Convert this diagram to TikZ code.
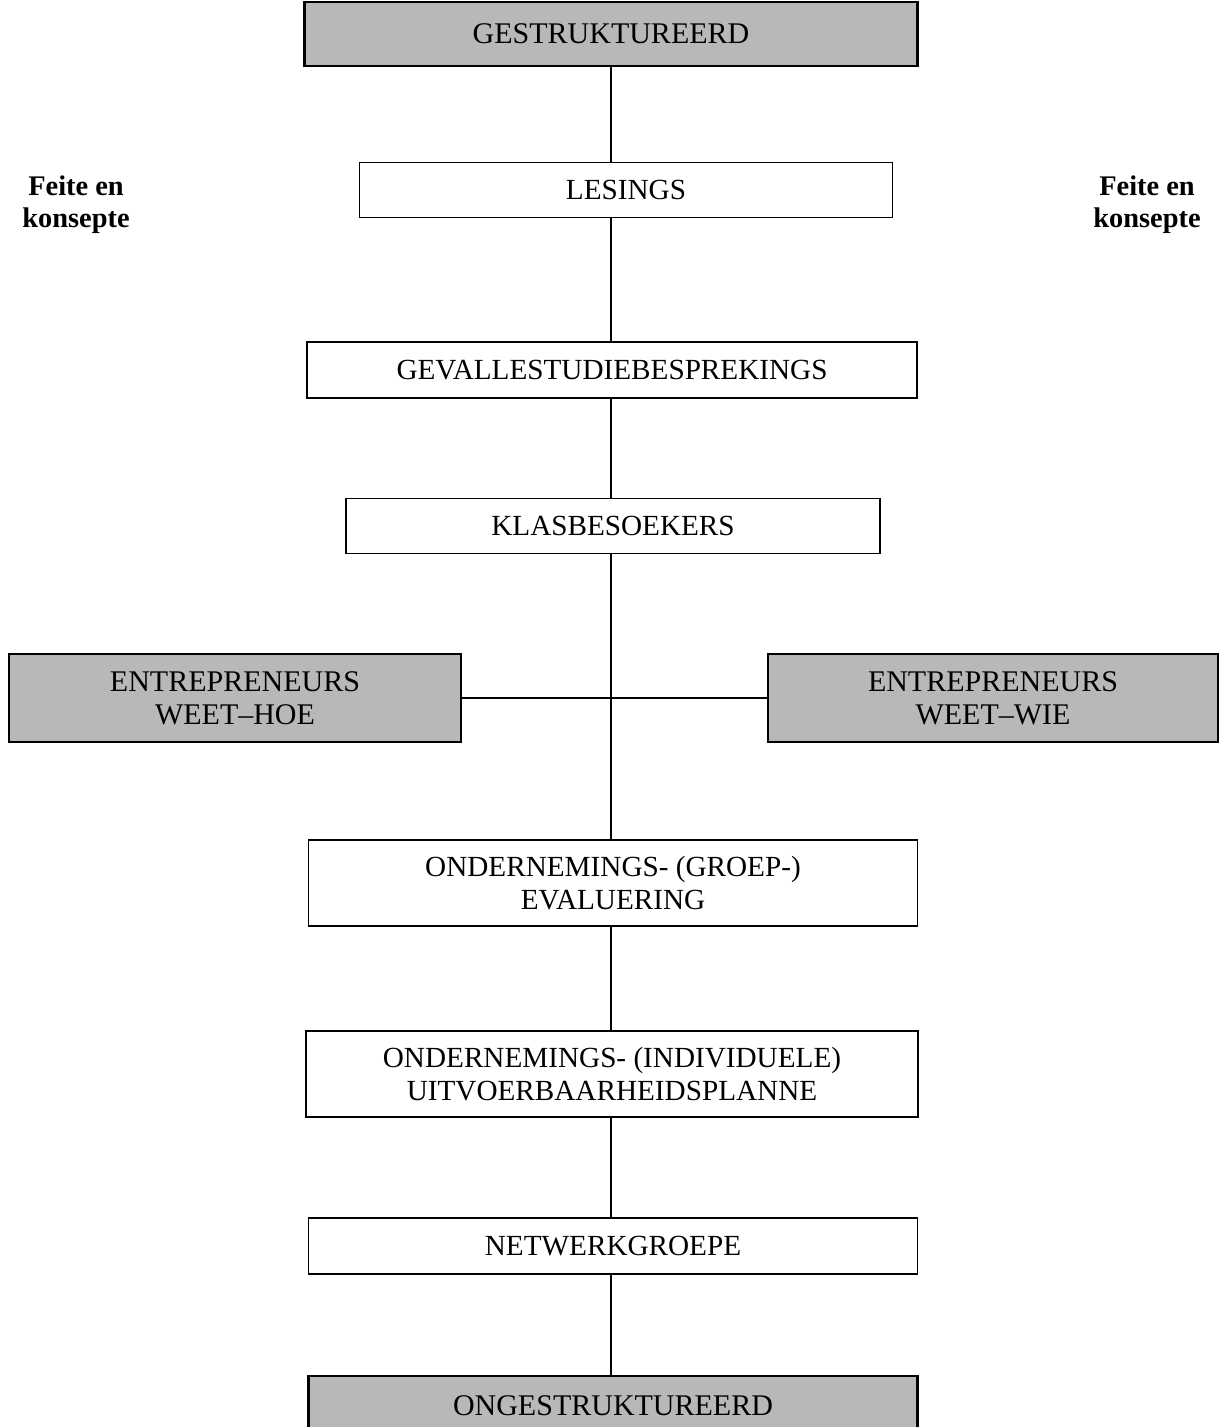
\documentclass[tikz,border=0pt]{standalone}
\usepackage{fontspec}
\setmainfont{Liberation Serif}
\usetikzlibrary{positioning}
\usetikzlibrary{calc}
\tikzstyle{plainbox}=[rectangle,draw=black,line width=0.8pt,fill=white,inner sep=0pt,align=center,font=\fontsize{14.6}{16.5}\selectfont]
\tikzstyle{greybox}=[rectangle,draw=black,line width=1.3pt,fill=black!28,inner sep=0pt,align=center,font=\fontsize{15}{16.5}\selectfont]
\tikzstyle{link} = [draw,line width=0.8pt]
\tikzstyle{sidenote} = [align=center,font=\bfseries\fontsize{14.2}{16}\selectfont]

\begin{document}
\begin{tikzpicture}[x=0.5pt,y=-0.5pt]
    \useasboundingbox (0,0) rectangle (1224,1427);
    % Grey end points and the two entrepreneur boxes
    \node[greybox, minimum width=306.5pt, minimum height=32pt] (top) at (611,34) {GESTRUKTUREERD};
    \node[greybox, minimum width=304.5pt, minimum height=30pt] (onge) at (613,1406) {ONGESTRUKTUREERD};
    \node[greybox, minimum width=226pt, minimum height=44pt] (hoe) at (235,698) {ENTREPRENEURS\\WEET--HOE};
    \node[greybox, minimum width=225pt, minimum height=44pt] (wie) at (993,698) {ENTREPRENEURS\\WEET--WIE};

    % Then the white steps
    \foreach \pos/\name/\boxw/\boxh/\label in {{(626,190)/les/266.5pt/27.5pt/{LESINGS}},
        {(612,370)/gev/305pt/28pt/{GEVALLESTUDIEBESPREKINGS}},
        {(613,526)/klas/267pt/27.5pt/{KLASBESOEKERS}},
        {(613,883)/groep/304.5pt/43pt/{ONDERNEMINGS- (GROEP-)\\EVALUERING}},
        {(612,1074)/indiv/306pt/43pt/{ONDERNEMINGS- (INDIVIDUELE)\\UITVOERBAARHEIDSPLANNE}},
        {(613,1246)/netw/304.5pt/28pt/{NETWERKGROEPE}}}
        \node[plainbox, minimum width=\boxw, minimum height=\boxh] (\name) at \pos {\label};

    % Side notes
    \node[sidenote] (feiteL) at (76,205) {Feite en\\konsepte};
    \node[sidenote] (feiteR) at (1147,205) {Feite en\\konsepte};

    % Connect the boxes along the spine
    \foreach \source/\dest in {top/les, les/gev, gev/klas, klas/groep, groep/indiv, indiv/netw, netw/onge}
        \path[link] (\source.south -| top) -- (\dest.north -| top);
    \path[link] (hoe) -- (wie);
\end{tikzpicture}
\end{document}
